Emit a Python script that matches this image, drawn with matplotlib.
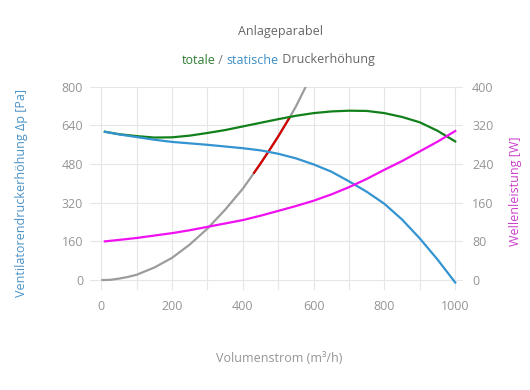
import matplotlib
matplotlib.use("Agg")
import matplotlib.pyplot as plt

plt.rcParams['font.family'] = ['Open Sans', 'DejaVu Sans']

# ---- data ----
q = [10, 50, 100, 150, 200, 250, 300, 350, 400, 450, 500,
     550, 600, 650, 700, 750, 800, 850, 900, 950, 1000]
p_total = [613, 603, 595, 589, 590, 597, 608, 620, 635, 650, 665,
           679, 690, 697, 700, 699, 690, 674, 652, 617, 573]
p_static = [613, 602, 591, 580, 571, 565, 559, 552, 545, 536, 522,
            503, 478, 448, 408, 365, 315, 250, 172, 85, -10]
power = [80, 83, 87, 92, 97, 103, 110, 117, 124, 133, 143,
         153, 164, 177, 192, 209, 228, 246, 266, 286, 308]

q_sys = [0, 25, 50, 75, 100, 150, 200, 250, 300, 350, 400, 430, 450, 475, 500, 533, 550, 578]
p_sys = [0, 1, 6, 13, 22, 52, 92, 147, 213, 291, 378, 440, 482, 537, 594, 674, 718, 800]

q_op = [430, 450, 475, 500, 533]
p_op = [440, 482, 537, 594, 674]

x_ticks = [0, 200, 400, 600, 800, 1000]
x_grid = [0, 100, 200, 300, 400, 500, 600, 700, 800, 900, 1000]
y_left_ticks = [0, 160, 320, 480, 640, 800]
y_right_ticks = [0, 80, 160, 240, 320, 400]

title = "Anlageparabel"
subtitle_parts = [("totale", "#2e7d32"), (" / ", "#777777"),
                  ("statische", "#3d8fc6"), (" Druckerhöhung", "#666666")]
xlabel = "Volumenstrom (m³/h)"
ylabel_left = "Ventilatorendruckerhöhung Δp [Pa]"
ylabel_right = "Wellenleistung [W]"

# ---- styling ----
W, H = 530, 390
fig = plt.figure(figsize=(W / 100, H / 100), dpi=100)
fig.patch.set_facecolor("white")

L, R, T, B = 90, 463, 86.5, 290
ax = fig.add_axes([L / W, 1 - B / H, (R - L) / W, (B - T) / H])
ax2 = ax.twinx()

FS = 9
TICKC = "#959595"
GRIDC = "#e6e6e6"

ax.set_xlim(-32, 1022)
ax.set_ylim(-41, 800)
ax2.set_ylim(-20.5, 400)

ax.set_xticks(x_ticks)
ax.set_xticks(x_grid, minor=True)
ax.set_yticks(y_left_ticks)
ax2.set_yticks(y_right_ticks)

ax.grid(True, which="both", axis="x", color=GRIDC, lw=0.8, zorder=0)
ax.grid(True, which="major", axis="y", color=GRIDC, lw=0.8, zorder=0)
ax.set_axisbelow(True)

for a in (ax, ax2):
    for s in a.spines.values():
        s.set_visible(False)
ax.tick_params(axis="x", which="both", length=0, pad=7, labelsize=FS, labelcolor=TICKC)
ax.tick_params(axis="y", length=0, pad=5, labelsize=FS, labelcolor=TICKC)
ax2.tick_params(axis="y", length=0, pad=6.5, labelsize=FS, labelcolor=TICKC)

lw = 1.6
ax.plot(q_sys, p_sys, color="#9c9c9c", lw=lw, zorder=3, solid_capstyle="butt")
ax.plot(q_op, p_op, color="#d40000", lw=lw, zorder=4, solid_capstyle="butt")
ax.plot(q, p_total, color="#12801a", lw=lw, zorder=5)
ax.plot(q, p_static, color="#3493d1", lw=lw, zorder=6)
ax2.plot(q, power, color="#f010f0", lw=lw, zorder=5)

# axis titles
fig.text(279 / W, 1 - 359 / H, xlabel, ha="center", va="center", fontsize=FS, color="#959595")
fig.text(22 / W, 1 - 193 / H, ylabel_left, ha="center", va="center", rotation=90,
         fontsize=FS, color="#4a92c6")
fig.text(515 / W, 1 - 191 / H, ylabel_right, ha="center", va="center", rotation=90,
         fontsize=FS, color="#cc3fcc")

# title
fig.text(280 / W, 1 - 31 / H, title, ha="center", va="center", fontsize=FS, color="#666666")

# multi-coloured subtitle
renderer = fig.canvas.get_renderer()
pieces = []
widths = []
for txt, col in subtitle_parts:
    t = fig.text(0, 1 - 60 / H, txt, ha="left", va="center", fontsize=FS, color=col)
    pieces.append(t)
    widths.append(t.get_window_extent(renderer).width)
total = sum(widths)
x0 = 278 - total / 2
for t, w in zip(pieces, widths):
    t.set_x(x0 / W)
    x0 += w

fig.savefig("out.png", dpi=100, facecolor="white")
